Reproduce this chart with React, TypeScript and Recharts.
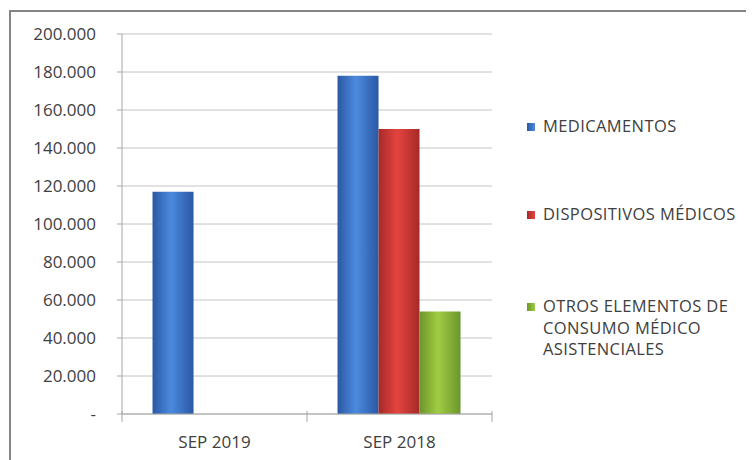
import React from 'react';
import { BarChart, Bar, XAxis, YAxis, CartesianGrid } from 'recharts';

const categories = ['SEP 2019', 'SEP 2018'];
const medicamentos = [117000, 178000];
const dispositivos = [0, 150000];
const otros = [0, 54000];
const yTicks = [0, 20000, 40000, 60000, 80000, 100000, 120000, 140000, 160000, 180000, 200000];
const seriesKeys = ['medicamentos', 'dispositivos', 'otros'];
const legendLabels = [
  ['MEDICAMENTOS'],
  ['DISPOSITIVOS MÉDICOS'],
  ['OTROS ELEMENTOS DE', 'CONSUMO MÉDICO', 'ASISTENCIALES'],
];
const seriesColors = [
  { edge: '#2a58a4', mid: '#4c8ade' },
  { edge: '#a52a28', mid: '#e4443f' },
  { edge: '#6c962a', mid: '#a0cc44' },
];

const data = categories.map((c, i) => ({
  name: c,
  medicamentos: medicamentos[i],
  dispositivos: dispositivos[i],
  otros: otros[i],
}));

const FONT = '"Open Sans", "Liberation Sans", sans-serif';
const TEXT = '#404040';

const fmt = (v: number) => (v === 0 ? '-' : v.toLocaleString('de-DE'));

const XTick = (props: any) => {
  const { x, y, payload, index } = props;
  const off = payload.offset || 0;
  return (
    <g>
      <line x1={x - off} x2={x - off} y1={y - 3} y2={y + 8} stroke="#a6a6a6" />
      {index === categories.length - 1 && (
        <line x1={x + off} x2={x + off} y1={y - 3} y2={y + 8} stroke="#a6a6a6" />
      )}
      <text x={x} y={y + 34} textAnchor="middle" fill={TEXT} fontSize={17} fontFamily={FONT}>
        {payload.value}
      </text>
    </g>
  );
};

const legendTops = [107, 195, 287];

const ChartLegend = () => (
  <div
    style={{
      position: 'absolute',
      left: 519,
      top: 0,
      width: 227,
      height: 452,
      fontFamily: FONT,
      color: TEXT,
      fontSize: 16.5,
      letterSpacing: 0.4,
    }}
  >
    {legendLabels.map((lines, i) => (
      <div key={i} style={{ position: 'absolute', left: 0, top: legendTops[i], display: 'flex', whiteSpace: 'nowrap' }}>
        <div
          style={{
            width: 8,
            height: 8,
            marginTop: 8,
            marginRight: 8,
            flex: 'none',
            background: `linear-gradient(to right, ${seriesColors[i].edge}, ${seriesColors[i].mid})`,
          }}
        />
        <div style={{ lineHeight: '21.5px', textAlign: 'left' }}>
          {lines.map((l, j) => (
            <div key={j}>{l}</div>
          ))}
        </div>
      </div>
    ))}
  </div>
);

export default function App() {
  return (
    <div style={{ position: 'relative', width: 746, height: 452 }}>
      <div
        style={{
          position: 'absolute',
          left: 1,
          top: 2,
          right: 0,
          bottom: 0,
          borderTop: '2px solid #858585',
          borderLeft: '2px solid #858585',
        }}
      />
      <BarChart
        width={746}
        height={452}
        data={data}
        margin={{ top: 26, right: 262, bottom: 16, left: 0 }}
        barCategoryGap="16.5%"
        barGap={0}
      >
        <defs>
          {seriesColors.map((c, i) => (
            <linearGradient key={i} id={`g${i}`} x1="0" y1="0" x2="1" y2="0">
              <stop offset="0%" stopColor={c.edge} />
              <stop offset="45%" stopColor={c.mid} />
              <stop offset="100%" stopColor={c.edge} />
            </linearGradient>
          ))}
        </defs>
        <CartesianGrid vertical={false} stroke="#c4c4c4" />
        <XAxis
          dataKey="name"
          height={30}
          tickSize={0}
          tickMargin={0}
          axisLine={{ stroke: '#a6a6a6' }}
          tickLine={false}
          tick={<XTick />}
          interval={0}
        />
        <YAxis
          width={114}
          domain={[0, 200000]}
          ticks={yTicks}
          tickFormatter={fmt}
          axisLine={{ stroke: '#a6a6a6' }}
          tickLine={{ stroke: '#a6a6a6' }}
          tickSize={5}
          tickMargin={21}
          tick={{ fill: TEXT, fontSize: 17, fontFamily: FONT }}
        />
        {seriesKeys.map((k, i) => (
          <Bar key={k} dataKey={k} fill={`url(#g${i})`} isAnimationActive={false} />
        ))}
      </BarChart>
      <ChartLegend />
    </div>
  );
}
